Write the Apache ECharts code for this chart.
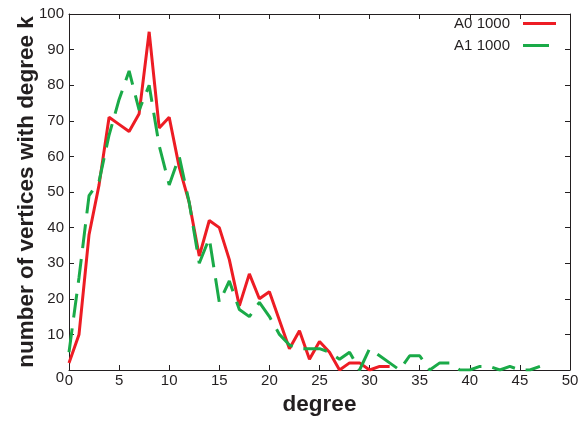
<!DOCTYPE html>
<html>
<head>
<meta charset="utf-8">
<script src="https://cdn.jsdelivr.net/npm/echarts@6/dist/echarts.min.js"></script>
<style>html,body{margin:0;padding:0;background:#fff}#c{width:586px;height:421px}</style>
</head>
<body>
<div id="c"></div>
<script>
var degreesA0 = [0,1,2,3,4,5,6,7,8,9,10,11,12,13,14,15,16,17,18,19,20,21,22,23,24,25,26,27,28,29,30,31,32];
var countsA0  = [2,10,38,52,71,69,67,72,95,68,71,57,47,32,42,40,31,18,27,20,22,14,6,11,3,8,5,0,2,2,0,1,1];
var degreesA1 = [0,1,2,3,4,5,6,7,8,9,10,11,12,13,14,15,16,17,18,19,20,21,22,23,24,25,26,27,28,29,30,31,32,33,34,35,36,37,38,39,40,41,42,43,44,45,46,47];
var countsA1  = [5,26,49,53,66,76,84,73,80,63,52,60,47,30,37,19,25,17,15,19,15,10,7,6,6,6,5,3,5,0,6,4,2,0,4,4,0,2,2,0,0,1,1,0,1,0,0,1];
var seriesNames = ['A0 1000', 'A1 1000'];
var xTitle = 'degree';
var yTitle = 'number of vertices with degree k';

function pairs(xs, ys) { return xs.map(function (x, i) { return [x, ys[i]]; }); }

var FONT = '"Liberation Sans", Arial, sans-serif';
var TXT = '#231f20';
var RED = '#ed1c24', GREEN = '#1aaa48';
var chart = echarts.init(document.getElementById('c'), null, {renderer: 'canvas'});
var axisCommon = {
  axisLine: {show: true, onZero: false, lineStyle: {color: TXT, width: 1}},
  axisTick: {show: true, inside: true, length: 5, lineStyle: {color: TXT, width: 1}},
  splitLine: {show: false}
};
chart.setOption({
  animation: false,
  backgroundColor: '#fff',
  grid: {left: 69, right: 16, top: 14, bottom: 51, containLabel: false, outerBoundsMode: 'none'},
  legend: {
    right: 30, top: 16, orient: 'vertical', align: 'right', padding: 0,
    itemWidth: 33, itemHeight: 3, itemGap: 7,
    textStyle: {fontFamily: FONT, fontSize: 15, color: TXT, padding: [0, 8, 0, 0]},
    data: [
      {name: seriesNames[0], icon: 'path://M0 0H33V3H0Z', itemStyle: {color: RED}},
      {name: seriesNames[1], icon: 'path://M0 0H26V3H0Z M33 0L33 3', itemStyle: {color: GREEN}}
    ]
  },
  xAxis: [
    Object.assign({
      type: 'value', min: 0, max: 50, interval: 5, position: 'bottom',
      name: xTitle, nameLocation: 'middle', nameGap: 20,
      nameTextStyle: {fontFamily: FONT, fontSize: 22.5, fontWeight: 'bold', color: TXT},
      axisLabel: {fontFamily: FONT, fontSize: 15, color: TXT, margin: 3}
    }, axisCommon),
    Object.assign({
      type: 'value', min: 0, max: 50, interval: 5, position: 'top',
      axisLabel: {show: false}
    }, axisCommon)
  ],
  yAxis: [
    Object.assign({
      type: 'value', min: 0, max: 100, interval: 10, position: 'left',
      name: yTitle, nameLocation: 'middle', nameGap: 31, nameMoveOverlap: false,
      nameTextStyle: {fontFamily: FONT, fontSize: 22.5, fontWeight: 'bold', color: TXT},
      axisLabel: {
        fontFamily: FONT, fontSize: 15, color: TXT, margin: 5,
        formatter: function (v) { return v === 0 ? '{z|0}' : String(v); },
        rich: {z: {fontFamily: FONT, fontSize: 15, color: TXT, padding: [16, 0, 0, 0]}}
      }
    }, axisCommon),
    Object.assign({
      type: 'value', min: 0, max: 100, interval: 10, position: 'right',
      axisLabel: {show: false}
    }, axisCommon)
  ],
  series: [
    {
      name: seriesNames[0], type: 'line', xAxisIndex: 0, yAxisIndex: 0,
      data: pairs(degreesA0, countsA0), symbol: 'none', showSymbol: false,
      lineStyle: {color: RED, width: 3, type: 'solid'},
      itemStyle: {color: RED}
    },
    {
      name: seriesNames[1], type: 'line', xAxisIndex: 0, yAxisIndex: 0,
      data: pairs(degreesA1, countsA1), symbol: 'none', showSymbol: false,
      lineStyle: {color: GREEN, width: 3, type: [24, 11]},
      itemStyle: {color: GREEN}
    }
  ]
});
</script>
</body>
</html>
